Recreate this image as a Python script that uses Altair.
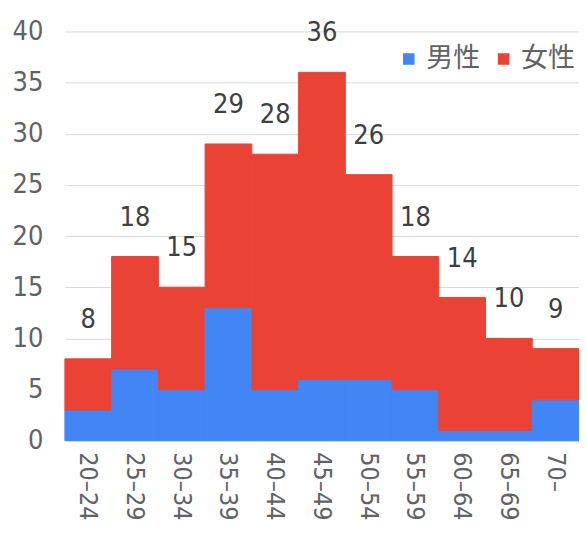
import altair as alt
import pandas as pd

ages = ["20–24", "25–29", "30–34", "35–39", "40–44", "45–49", "50–54", "55–59", "60–64", "65–69", "70–"]
male = [3, 7, 5, 13, 5, 6, 6, 5, 1, 1, 4]
total = [8, 18, 15, 29, 28, 36, 26, 18, 14, 10, 9]
female = [t - m for t, m in zip(total, male)]

rows = []
for a, m, f in zip(ages, male, female):
    rows.append({"age": a, "sex": "男性", "n": m, "o": 0})
    rows.append({"age": a, "sex": "女性", "n": f, "o": 1})
df = pd.DataFrame(rows)
tdf = pd.DataFrame({"age": ages, "total": total})

FONT = "DejaVu Sans Condensed"
GRAY = "#5f6368"
cscale = alt.Scale(domain=["男性", "女性"], range=["#4285F4", "#EA4335"])

x = alt.X("age:N", sort=ages, title=None,
          scale=alt.Scale(paddingInner=0, paddingOuter=0),
          axis=alt.Axis(labelAngle=90, labelFontSize=25, labelColor=GRAY, labelFont=FONT,
                        ticks=False, domain=False, labelPadding=11, labelAlign="left",
                        labelBaseline="middle"))

bars = alt.Chart(df).mark_bar(strokeWidth=1).encode(
    x=x,
    y=alt.Y("n:Q", stack="zero", title=None,
            scale=alt.Scale(domain=[0, 40]),
            axis=alt.Axis(values=[0, 5, 10, 15, 20, 25, 30, 35, 40], labelFontSize=27,
                          labelColor=GRAY, labelFont=FONT, ticks=False, domain=False,
                          gridColor="#d9d9d9", labelPadding=22)),
    color=alt.Color("sex:N", scale=cscale,
                    legend=alt.Legend(title=None, orient="none", direction="horizontal",
                                      legendX=331, legendY=14, symbolType="square",
                                      symbolSize=100, labelFontSize=27, labelColor=GRAY,
                                      labelFont="Noto Sans CJK JP", columnPadding=10,
                                      labelOffset=4)),
    stroke=alt.Stroke("sex:N", scale=cscale, legend=None),
    order=alt.Order("o:Q"),
)

labels = alt.Chart(tdf).mark_text(fontSize=27, font=FONT, color="#3c4043",
                                  baseline="alphabetic", dy=-31).encode(
    x=alt.X("age:N", sort=ages),
    y=alt.Y("total:Q"),
    text=alt.Text("total:Q"),
)

chart = alt.layer(bars, labels).properties(
    width=515, height=410,
    autosize=alt.AutoSizeParams(type="none"),
    padding={"left": 57, "top": 23, "right": 0, "bottom": 84},
).configure_view(stroke=None)

chart.save("out.html", embed_options={"renderer": "svg", "actions": False})
